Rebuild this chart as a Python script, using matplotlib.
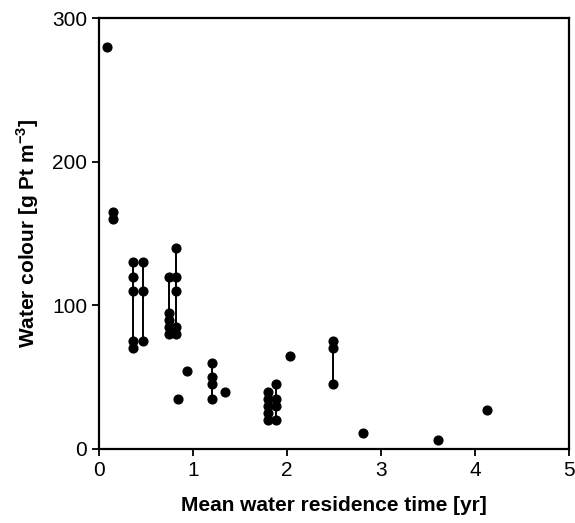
import matplotlib
matplotlib.use("Agg")
import matplotlib.pyplot as plt

plt.rcParams['font.family'] = ['Liberation Sans', 'DejaVu Sans']
plt.rcParams['mathtext.fontset'] = 'custom'
plt.rcParams['mathtext.bf'] = 'Liberation Sans:bold'

# Residence time [yr] and water colour [g Pt m-3], one entry per lake
res_time = [0.09, 0.15, 0.36, 0.47, 0.75, 0.82, 0.84, 0.94, 1.20,
            1.34, 1.80, 1.88, 2.03, 2.49, 2.81, 3.61, 4.13]
colour = [
    [280],
    [165, 160],
    [130, 120, 110, 75, 70],
    [130, 110, 75],
    [120, 95, 90, 85, 80],
    [140, 120, 110, 85, 80],
    [35],
    [54],
    [60, 50, 45, 35],
    [40],
    [40, 35, 30, 25, 20],
    [45, 35, 30, 20],
    [65],
    [75, 70, 45],
    [11],
    [6],
    [27],
]

fig = plt.figure(figsize=(5.75, 5.23), dpi=100)
ax = fig.add_axes([0.172, 0.1415, 0.818, 0.824])

for x, ys in zip(res_time, colour):
    if len(ys) > 1:
        ax.plot([x, x], [min(ys), max(ys)], color='black', lw=1.4, zorder=2)
    ax.plot([x] * len(ys), ys, 'o', color='black', ms=6.3, zorder=3)

ax.set_xlim(0, 5)
ax.set_ylim(0, 300)
ax.set_xticks([0, 1, 2, 3, 4, 5])
ax.set_yticks([0, 100, 200, 300])
ax.tick_params(labelsize=15, length=5, width=1.3, direction='out')
for s in ax.spines.values():
    s.set_linewidth(1.6)

ax.set_xlabel("Mean water residence time [yr]", fontsize=15, fontweight='bold', labelpad=12)
ax.set_ylabel("Water colour [g Pt m$^{\\mathbf{-3}}$]", fontsize=15, fontweight='bold', labelpad=8)

fig.savefig("out.png", dpi=100)
